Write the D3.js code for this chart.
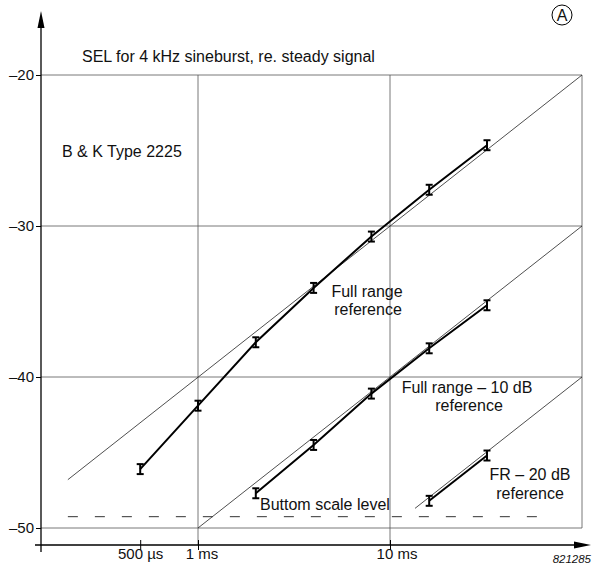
<!DOCTYPE html>
<html>
<head>
<meta charset="utf-8">
<script src="https://cdn.jsdelivr.net/npm/d3@7"></script>
<style>
  body { margin: 0; background: #fff; }
  text { font-family: "Liberation Sans", Arial, sans-serif; fill: #111; }
</style>
</head>
<body>
<div id="chart"></div>
<script>
// Levels in dB, times in ms
const yTicks = [-20, -30, -40, -50];
const xGrid = [1, 10, 100];
const xTicks = [0.5, 1, 10];
const xTickLabels = ["500 \u00b5s", "1 ms", "10 ms"];

const fullTimes = [0.5, 1, 2, 4, 8, 16, 32];
const fullValues = [-46.1, -41.9, -37.7, -34.1, -30.7, -27.6, -24.65];

const fr10Times = [2, 4, 8, 16, 32];
const fr10Values = [-47.7, -44.5, -41.1, -38.1, -35.25];

const fr20Times = [16, 32];
const fr20Values = [-48.2, -45.2];

// thin reference lines (start, end)
const refFull = [[0.21, -46.8], [100, -20]];
const ref10 = [[1, -50], [100, -30]];
const ref20 = [[13.5, -48.7], [100, -40]];

const bottomLevel = -49.25;
const bottomRange = [0.21, 64];
const errHalf = 0.33;

const width = 595, height = 566;
const axisX = 41, axisY = 545;

const x = d3.scaleLog().domain([1, 100]).range([198, 582]);
const y = d3.scaleLinear().domain([-20, -50]).range([75, 528]);

const svg = d3.select("#chart").append("svg")
    .attr("width", width)
    .attr("height", height)
    .attr("viewBox", [0, 0, width, height]);

// grid
const grid = svg.append("g").attr("stroke", "#555").attr("stroke-width", 0.8);
grid.selectAll("line.h")
    .data(yTicks)
    .join("line")
    .attr("class", "h")
    .attr("x1", axisX).attr("x2", x(100))
    .attr("y1", d => y(d)).attr("y2", d => y(d));
grid.selectAll("line.v")
    .data(xGrid)
    .join("line")
    .attr("class", "v")
    .attr("x1", d => x(d)).attr("x2", d => x(d))
    .attr("y1", y(-20))
    .attr("y2", d => d === 100 ? y(-50) : axisY);

// reference lines
const line = d3.line().x(d => x(d[0])).y(d => y(d[1]));
svg.append("g")
    .attr("fill", "none")
    .attr("stroke", "#222")
    .attr("stroke-width", 0.8)
    .selectAll("path")
    .data([refFull, ref10, ref20])
    .join("path")
    .attr("d", line);

// bottom scale level
svg.append("line")
    .attr("x1", x(bottomRange[0])).attr("x2", x(bottomRange[1]))
    .attr("y1", y(bottomLevel)).attr("y2", y(bottomLevel))
    .attr("stroke", "#333")
    .attr("stroke-width", 1)
    .attr("stroke-dasharray", "10,17");

// measured series
const series = [
    fullTimes.map((t, i) => [t, fullValues[i]]),
    fr10Times.map((t, i) => [t, fr10Values[i]]),
    fr20Times.map((t, i) => [t, fr20Values[i]])
];

const sg = svg.append("g");
sg.selectAll("path")
    .data(series)
    .join("path")
    .attr("fill", "none")
    .attr("stroke", "#000")
    .attr("stroke-width", 2)
    .attr("d", line);

const pts = series.flat();
const eb = sg.append("g").attr("stroke", "#000").attr("stroke-width", 2);
eb.selectAll("line.bar")
    .data(pts)
    .join("line")
    .attr("class", "bar")
    .attr("x1", d => x(d[0])).attr("x2", d => x(d[0]))
    .attr("y1", d => y(d[1] + errHalf)).attr("y2", d => y(d[1] - errHalf));
eb.selectAll("line.top")
    .data(pts)
    .join("line")
    .attr("class", "top")
    .attr("x1", d => x(d[0]) - 3.5).attr("x2", d => x(d[0]) + 3.5)
    .attr("y1", d => y(d[1] + errHalf)).attr("y2", d => y(d[1] + errHalf));
eb.selectAll("line.bot")
    .data(pts)
    .join("line")
    .attr("class", "bot")
    .attr("x1", d => x(d[0]) - 3.5).attr("x2", d => x(d[0]) + 3.5)
    .attr("y1", d => y(d[1] - errHalf)).attr("y2", d => y(d[1] - errHalf));

// axes
svg.append("g")
    .attr("transform", `translate(${axisX},0)`)
    .call(d3.axisLeft(y).tickValues(yTicks).tickSize(5).tickPadding(2)
        .tickFormat(d => "\u2013" + Math.abs(d)))
    .call(g => g.select(".domain").remove())
    .call(g => g.selectAll("text").attr("font-size", 15).attr("font-family", "Liberation Sans, Arial, sans-serif"));

const labelShift = [0, 3.5, 6.5];
svg.append("g")
    .attr("transform", `translate(0,${axisY})`)
    .call(d3.axisBottom(x).tickValues(xTicks).tickSize(5).tickPadding(3)
        .tickFormat((d, i) => xTickLabels[i]))
    .call(g => g.select(".domain").remove())
    .call(g => g.selectAll(".tick line").attr("y1", -5))
    .call(g => g.selectAll("text")
        .attr("font-size", 15)
        .attr("font-family", "Liberation Sans, Arial, sans-serif")
        .attr("dy", null)
        .attr("y", 14)
        .attr("x", (d, i) => labelShift[i]));

// axis lines with arrows
svg.append("line")
    .attr("x1", axisX).attr("x2", axisX)
    .attr("y1", axisY + 7).attr("y2", 22)
    .attr("stroke", "#000").attr("stroke-width", 1.3);
svg.append("path")
    .attr("d", `M${axisX - 3.5},28 L${axisX},11 L${axisX + 3.5},28 Z`)
    .attr("fill", "#000");
svg.append("line")
    .attr("x1", 35).attr("x2", 580)
    .attr("y1", axisY).attr("y2", axisY)
    .attr("stroke", "#000").attr("stroke-width", 1.3);
svg.append("path")
    .attr("d", `M574,${axisY - 3.5} L591,${axisY} L574,${axisY + 3.5} Z`)
    .attr("fill", "#000");

// annotations
const ann = svg.append("g").attr("font-size", 16);
ann.append("text").attr("x", 82).attr("y", 62).text("SEL for 4 kHz sineburst, re. steady signal");
ann.append("text").attr("x", 62).attr("y", 157).text("B & K Type 2225");
ann.append("text").attr("x", 367).attr("y", 297).attr("text-anchor", "middle").text("Full range");
ann.append("text").attr("x", 368).attr("y", 315).attr("text-anchor", "middle").text("reference");
ann.append("text").attr("x", 467).attr("y", 393).attr("text-anchor", "middle").text("Full range \u2013 10 dB");
ann.append("text").attr("x", 469).attr("y", 411).attr("text-anchor", "middle").text("reference");
ann.append("text").attr("x", 530).attr("y", 480).attr("text-anchor", "middle").text("FR \u2013 20 dB");
ann.append("text").attr("x", 530).attr("y", 499).attr("text-anchor", "middle").text("reference");
ann.append("text").attr("x", 260).attr("y", 510).text("Buttom scale level");

svg.append("text")
    .attr("x", 591).attr("y", 563)
    .attr("text-anchor", "end")
    .attr("font-size", 11.5)
    .attr("font-style", "italic")
    .text("821285");

svg.append("circle")
    .attr("cx", 562).attr("cy", 15).attr("r", 10)
    .attr("fill", "none").attr("stroke", "#000").attr("stroke-width", 1);
svg.append("text")
    .attr("x", 562).attr("y", 21)
    .attr("text-anchor", "middle")
    .attr("font-size", 16)
    .text("A");
</script>
</body>
</html>
